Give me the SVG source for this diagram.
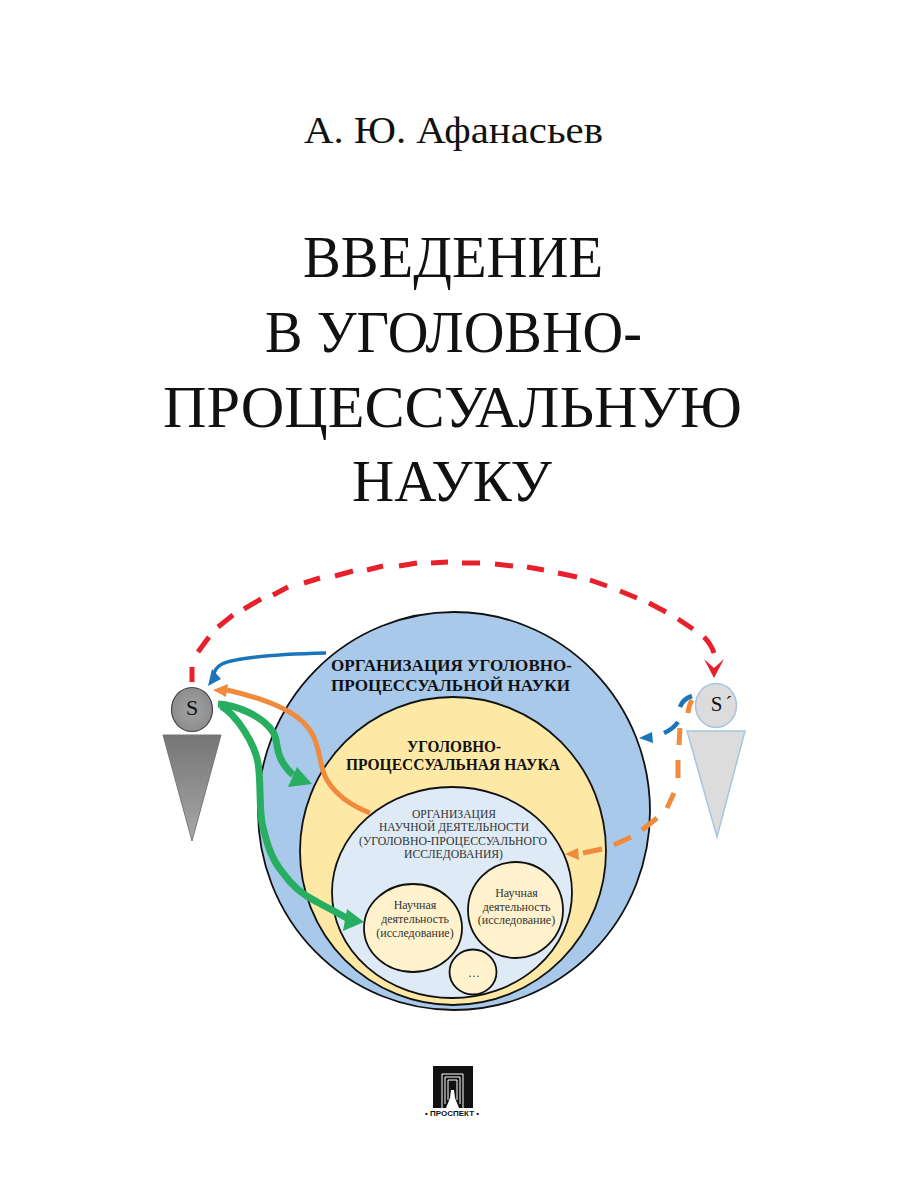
<svg xmlns="http://www.w3.org/2000/svg" width="900" height="1200" viewBox="0 0 900 1200">
<style>
text{font-family:"Liberation Serif","DejaVu Serif",serif;fill:#111;text-anchor:middle}
.t{font-size:60px}
.b{font-size:17px;font-weight:bold}
.b2{font-size:16px;font-weight:bold}
.o{font-size:11.700px;fill:#333}
.n{font-size:12px;fill:#333}
.c{stroke:#111;stroke-width:1.800}
path.l{fill:none;stroke-linecap:butt}
</style>
<defs>
<linearGradient id="g1" x1="0" y1="0" x2="0" y2="1"><stop offset="0" stop-color="#757575"/><stop offset="1" stop-color="#a8a8a8"/></linearGradient>
<radialGradient id="g2"><stop offset="0" stop-color="#a3a3a3"/><stop offset="1" stop-color="#8d8d8d"/></radialGradient>
</defs>
<rect width="900" height="1200" fill="#fff"/>
<g id="author"><text x="453.500" y="143" font-size="37" textLength="299" lengthAdjust="spacingAndGlyphs">А. Ю. Афанасьев</text></g>
<g id="title">
<text class="t" x="453" y="277" textLength="300" lengthAdjust="spacingAndGlyphs">ВВЕДЕНИЕ</text>
<text class="t" x="453.500" y="352" textLength="377" lengthAdjust="spacingAndGlyphs">В УГОЛОВНО-</text>
<text class="t" x="452.500" y="427" textLength="579" lengthAdjust="spacingAndGlyphs">ПРОЦЕССУАЛЬНУЮ</text>
<text class="t" x="452" y="501" textLength="200" lengthAdjust="spacingAndGlyphs">НАУКУ</text>
</g>
<g id="org-science">
<ellipse class="c" cx="454" cy="811" rx="196" ry="199" fill="#a8c9ea"/>
<text class="b" x="451.500" y="671" textLength="241" lengthAdjust="spacingAndGlyphs">ОРГАНИЗАЦИЯ УГОЛОВНО-</text>
<text class="b" x="450.500" y="691" textLength="239" lengthAdjust="spacingAndGlyphs">ПРОЦЕССУАЛЬНОЙ НАУКИ</text>
</g>
<g id="science">
<ellipse class="c" cx="453" cy="851" rx="153" ry="154" fill="#fee8a6"/>
<text class="b2" x="454" y="752" textLength="94" lengthAdjust="spacingAndGlyphs">УГОЛОВНО-</text>
<text class="b2" x="453" y="770" textLength="214" lengthAdjust="spacingAndGlyphs">ПРОЦЕССУАЛЬНАЯ НАУКА</text>
</g>
<g id="org-research">
<ellipse class="c" cx="452" cy="892.500" rx="120" ry="105.500" fill="#deeaf6"/>
<text class="o" x="454" y="818" textLength="84" lengthAdjust="spacingAndGlyphs">ОРГАНИЗАЦИЯ</text>
<text class="o" x="454" y="831" textLength="150" lengthAdjust="spacingAndGlyphs">НАУЧНОЙ ДЕЯТЕЛЬНОСТИ</text>
<text class="o" x="453" y="844.500" textLength="188" lengthAdjust="spacingAndGlyphs">(УГОЛОВНО-ПРОЦЕССУАЛЬНОГО</text>
<text class="o" x="453.500" y="858" textLength="99" lengthAdjust="spacingAndGlyphs">ИССЛЕДОВАНИЯ)</text>
</g>
<g id="research-1">
<ellipse class="c" cx="413" cy="928" rx="49" ry="44" fill="#fff2cc"/>
<text class="n" x="415" y="909">Научная</text>
<text class="n" x="415" y="923">деятельность</text>
<text class="n" x="415" y="937">(исследование)</text>
</g>
<g id="research-2">
<ellipse class="c" cx="515.500" cy="910" rx="47.500" ry="48" fill="#fff2cc"/>
<text class="n" x="516.500" y="897">Научная</text>
<text class="n" x="516.500" y="910.500">деятельность</text>
<text class="n" x="516.500" y="924">(исследование)</text>
</g>
<g id="research-3">
<ellipse class="c" cx="473" cy="972" rx="23.500" ry="22.500" fill="#fff2cc"/>
<text class="n" x="474" y="977">…</text>
</g>
<g id="subject-s">
<polygon points="163,735 221,735 192,841" fill="url(#g1)" stroke="#777"/>
<ellipse cx="192" cy="709.500" rx="20.500" ry="22" fill="url(#g2)" stroke="#444" stroke-width="1.200"/>
<text x="192" y="715" font-size="22">S</text>
</g>
<g id="subject-s-prime">
<polygon points="687,731 745,731 717,837" fill="#dcdcdc" stroke="#a8c4de" stroke-width="1.500"/>
<ellipse cx="716" cy="705.500" rx="20.500" ry="22" fill="#dcdcdc" stroke="#a8c4de" stroke-width="1.500"/>
<text x="723" y="711" font-size="21" letter-spacing="3">S´</text>
</g>
<g id="connectors">
<path class="l" d="M192 682L192 667M198 652L209 637M218 627L233 615M244 609L261 599M273 595L288 587M304 583L320 578M335 576L353 571M367 570L383 566M399 566L417 563M431 563L448 562M462 563L480 563M495 564L513 566M527 567L544 570M558 573L577 577M590 580L607 586M620 591L637 598M649 603L666 612M678 619L693 629M704 637Q711 644 714 653" stroke="#e8202a" stroke-width="5"/>
<path d="M704 659L714 668L724 659L714 678Z" fill="#e8202a"/>
<path class="l" d="M326 653C285 654 240 656 222 664C216 667 214 671 213 677" stroke="#1a75bb" stroke-width="3.500"/>
<path d="M208 686L212 669L221 679Z" fill="#1a75bb"/>
<path class="l" d="M370 813C352 806 336 795 327 780C321 770 321 760 318 750C315 738 312 731 303 722C288 708 262 698 227 690" stroke="#f08a3c" stroke-width="5"/>
<path d="M213 690L228 684L226 697Z" fill="#f08a3c"/>
<path class="l" d="M218 704C235 705 262 715 273 732C280 742 272 755 293 775" stroke="#27ae60" stroke-width="7"/>
<path d="M297 767L312 784L288 787Z" fill="#27ae60"/>
<path class="l" d="M221 706C238 716 255 745 258 763C261 780 259 805 262 823C267 845 272 860 283 873C292 886 305 896 317 902C328 908 338 913 350 920" stroke="#27ae60" stroke-width="7"/>
<path d="M347 909L364 922L343 931Z" fill="#27ae60"/>
<path class="l" d="M680 707Q683 699 692 696M664 733Q673 729 678 722" stroke="#1a75bb" stroke-width="4.500"/>
<path d="M639 738L652 732L653 743Z" fill="#1a75bb"/>
<path class="l" d="M688 713Q689 705 692 700M680 728L679 745M678 760L678 778M674 793L667 808M657 818L642 830M631 837L614 845M602 849L583 853" stroke="#f08a3c" stroke-width="5"/>
<path d="M565 854L578 848L579 860Z" fill="#f08a3c"/>
</g>
<g id="publisher-logo">
<rect x="433" y="1066" width="40" height="42" fill="#111"/>
<path d="M442 1108V1074H463V1108M445 1104V1077H460V1104M448 1100V1080H457V1100" fill="none" stroke="#fff" stroke-width="1"/>
<path d="M446 1108L450 1098L451 1090H454L455 1098L459 1108Z" fill="#fff"/>
<text x="452" y="1116" font-size="8" style="font-family:'Liberation Sans',sans-serif;font-weight:bold">• ПРОСПЕКТ •</text>
</g>
</svg>
